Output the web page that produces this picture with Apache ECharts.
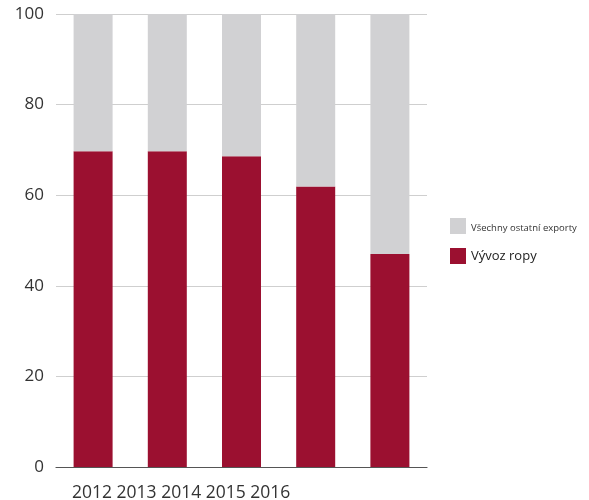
<!DOCTYPE html>
<html><head><meta charset="utf-8">
<script src="https://cdn.jsdelivr.net/npm/echarts@6/dist/echarts.min.js"></script>
<style>html,body{margin:0;padding:0;background:#fff}#c{width:589px;height:500px}</style>
</head><body><div id="c"></div>
<script>
const categories = ['2012', '2013', '2014', '2015', '2016'];
const oilExports = [69.7, 69.7, 68.6, 61.9, 47.0];
const otherExports = [30.3, 30.3, 31.4, 38.1, 53.0];
const yTicks = [0, 20, 40, 60, 80, 100];
const seriesNames = ['Všechny ostatní exporty', 'Vývoz ropy'];

const chart = echarts.init(document.getElementById('c'));
const FONT = '"Open Sans", "Noto Sans", sans-serif';
chart.setOption({
  animation: false,
  textStyle: { fontFamily: FONT },
  grid: { left: 56, right: 162, top: 14, bottom: 33, containLabel: false },
  legend: {
    data: [seriesNames[0], seriesNames[1]],
    orient: 'vertical',
    left: 450, top: 218, padding: 0,
    itemWidth: 16, itemHeight: 16, itemGap: 14,
    icon: 'rect',
    formatter: n => n === seriesNames[1] ? '{big|' + n + '}' : '{small|' + n + '}',
    textStyle: {
      fontFamily: FONT, color: '#333',
      rich: {
        small: { fontSize: 9.5, fontFamily: FONT, color: '#333', padding: [4, 0, 0, 0] },
        big: { fontSize: 13, fontFamily: FONT, color: '#222' }
      }
    }
  },
  xAxis: {
    type: 'category', data: categories,
    axisTick: { show: false },
    axisLabel: { show: false },
    axisLine: { lineStyle: { color: '#555', width: 1.2 } }
  },
  yAxis: {
    type: 'value', min: yTicks[0], max: yTicks[yTicks.length - 1], interval: 20,
    axisLine: { show: false }, axisTick: { show: false },
    axisLabel: { fontSize: 17, color: '#333', margin: 12, fontFamily: FONT },
    splitLine: { lineStyle: { color: '#cfcfcf', width: 1 } }
  },
  graphic: [{
    type: 'text', left: 72, top: 484,
    style: { text: categories.join(' '), fontSize: 17.5, fill: '#333', fontFamily: FONT }
  }],
  series: [
    { name: seriesNames[1], type: 'bar', stack: 's', data: oilExports, barWidth: 39,
      itemStyle: { color: '#9B1030' } },
    { name: seriesNames[0], type: 'bar', stack: 's', data: otherExports, barWidth: 39,
      itemStyle: { color: '#D1D1D3' } }
  ]
});
</script></body></html>
